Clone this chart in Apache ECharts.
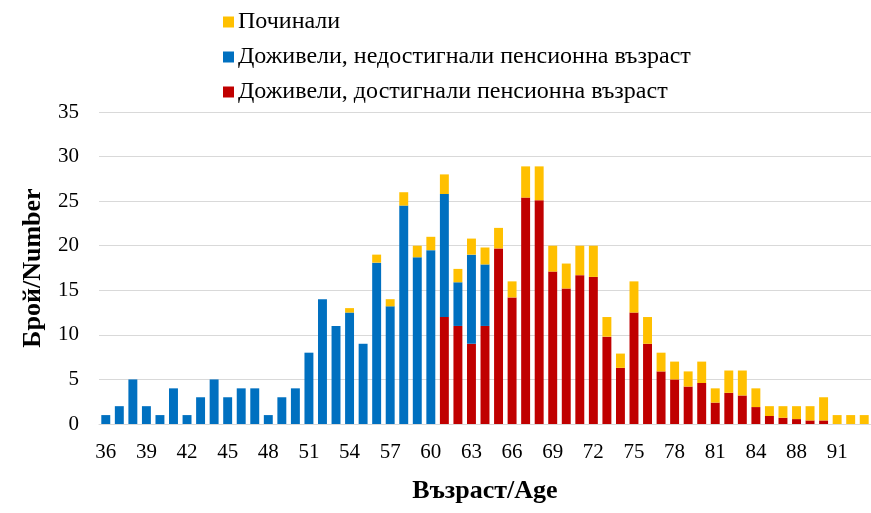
<!doctype html>
<html>
<head>
<meta charset="UTF-8">
<title></title>
<script src="https://cdn.jsdelivr.net/npm/echarts@6/dist/echarts.min.js"></script>
<style>
	html, body { margin: 0; padding: 0; background: #fff; }
	#chart { width: 871px; height: 513px; }
</style>
</head>
<body>
<div id="chart"></div>
<script>
	// възрасти (87 липсва в оригинала)
	var ages = [36, 37, 38, 39, 40, 41, 42, 43, 44, 45, 46, 47, 48, 49, 50, 51, 52, 53, 54, 55,
		56, 57, 58, 59, 60, 61, 62, 63, 64, 65, 66, 67, 68, 69, 70, 71, 72, 73, 74, 75,
		76, 77, 78, 79, 80, 81, 82, 83, 84, 85, 86, 88, 89, 90, 91, 92, 93];
	// доживели, недостигнали пенсионна възраст
	var blueVals = [1, 2, 5, 2, 1, 4, 1, 3, 5, 3, 4, 4, 1, 3, 4, 8, 14, 11, 12.5, 9,
		18.1, 13.2, 24.5, 18.7, 19.5, 13.8, 4.9, 10, 6.9, 0, 0, 0, 0, 0, 0, 0, 0, 0, 0, 0,
		0, 0, 0, 0, 0, 0, 0, 0, 0, 0, 0, 0, 0, 0, 0, 0, 0];
	// доживели, достигнали пенсионна възраст
	var redVals = [0, 0, 0, 0, 0, 0, 0, 0, 0, 0, 0, 0, 0, 0, 0, 0, 0, 0, 0, 0,
		0, 0, 0, 0, 0, 12, 11, 9, 11, 19.7, 14.2, 25.4, 25.1, 17.1, 15.2, 16.7, 16.5, 9.8, 6.3, 12.5,
		9, 5.9, 5, 4.2, 4.6, 2.4, 3.5, 3.2, 1.9, 0.9, 0.7, 0.55, 0.4, 0.4, 0, 0, 0];
	// починали
	var yellowVals = [0, 0, 0, 0, 0, 0, 0, 0, 0, 0, 0, 0, 0, 0, 0, 0, 0, 0, 0.5, 0,
		0.9, 0.8, 1.5, 1.3, 1.5, 2.2, 1.5, 1.8, 1.9, 2.3, 1.8, 3.5, 3.8, 2.9, 2.8, 3.3, 3.5, 2.2, 1.6, 3.5,
		3, 2.1, 2, 1.7, 2.4, 1.6, 2.5, 2.8, 2.1, 1.1, 1.3, 1.45, 1.6, 2.6, 1, 1, 1];

	var font = '"Liberation Serif", "Times New Roman", serif';
	var myChart = echarts.init(document.getElementById('chart'));

	var option = {
		backgroundColor: '#fff',
		animation: false,
		textStyle: { fontFamily: font },
		legend: {
			orient: 'vertical',
			left: 218,
			top: 5,
			itemWidth: 11,
			itemHeight: 11,
			itemGap: 11,
			icon: 'rect',
			textStyle: { fontFamily: font, fontSize: 24, color: '#000', lineHeight: 24, padding: [0, 0, 0, -1] },
			data: ['Починали', 'Доживели, недостигнали пенсионна възраст', 'Доживели, достигнали пенсионна възраст']
		},
		grid: {
			left: 99,
			right: 0,
			top: 112,
			bottom: 89
		},
		xAxis: {
			type: 'category',
			data: ages,
			name: 'Възраст/Age',
			nameLocation: 'middle',
			nameGap: 54,
			nameTextStyle: { fontFamily: font, fontSize: 26, fontWeight: 'bold', color: '#000' },
			axisLine: { lineStyle: { color: '#D9D9D9' } },
			axisTick: { show: false },
			axisLabel: { interval: 2, margin: 18, fontFamily: font, fontSize: 21, color: '#000' }
		},
		yAxis: {
			type: 'value',
			min: 0,
			max: 35,
			interval: 5,
			name: 'Брой/Number',
			nameLocation: 'middle',
			nameGap: 53,
			nameTextStyle: { fontFamily: font, fontSize: 26, fontWeight: 'bold', color: '#000' },
			axisLine: { show: false },
			axisTick: { show: false },
			axisLabel: { margin: 20, fontFamily: font, fontSize: 21, color: '#000' },
			splitLine: { lineStyle: { color: '#D9D9D9' } }
		},
		series: [{
			name: 'Доживели, достигнали пенсионна възраст',
			type: 'bar',
			stack: 'all',
			barWidth: '66%',
			itemStyle: { color: '#C00000' },
			data: redVals
		}, {
			name: 'Доживели, недостигнали пенсионна възраст',
			type: 'bar',
			stack: 'all',
			itemStyle: { color: '#0070C0' },
			data: blueVals
		}, {
			name: 'Починали',
			type: 'bar',
			stack: 'all',
			itemStyle: { color: '#FFC000' },
			data: yellowVals
		}]
	};
	myChart.setOption(option);
</script>
</body>
</html>
